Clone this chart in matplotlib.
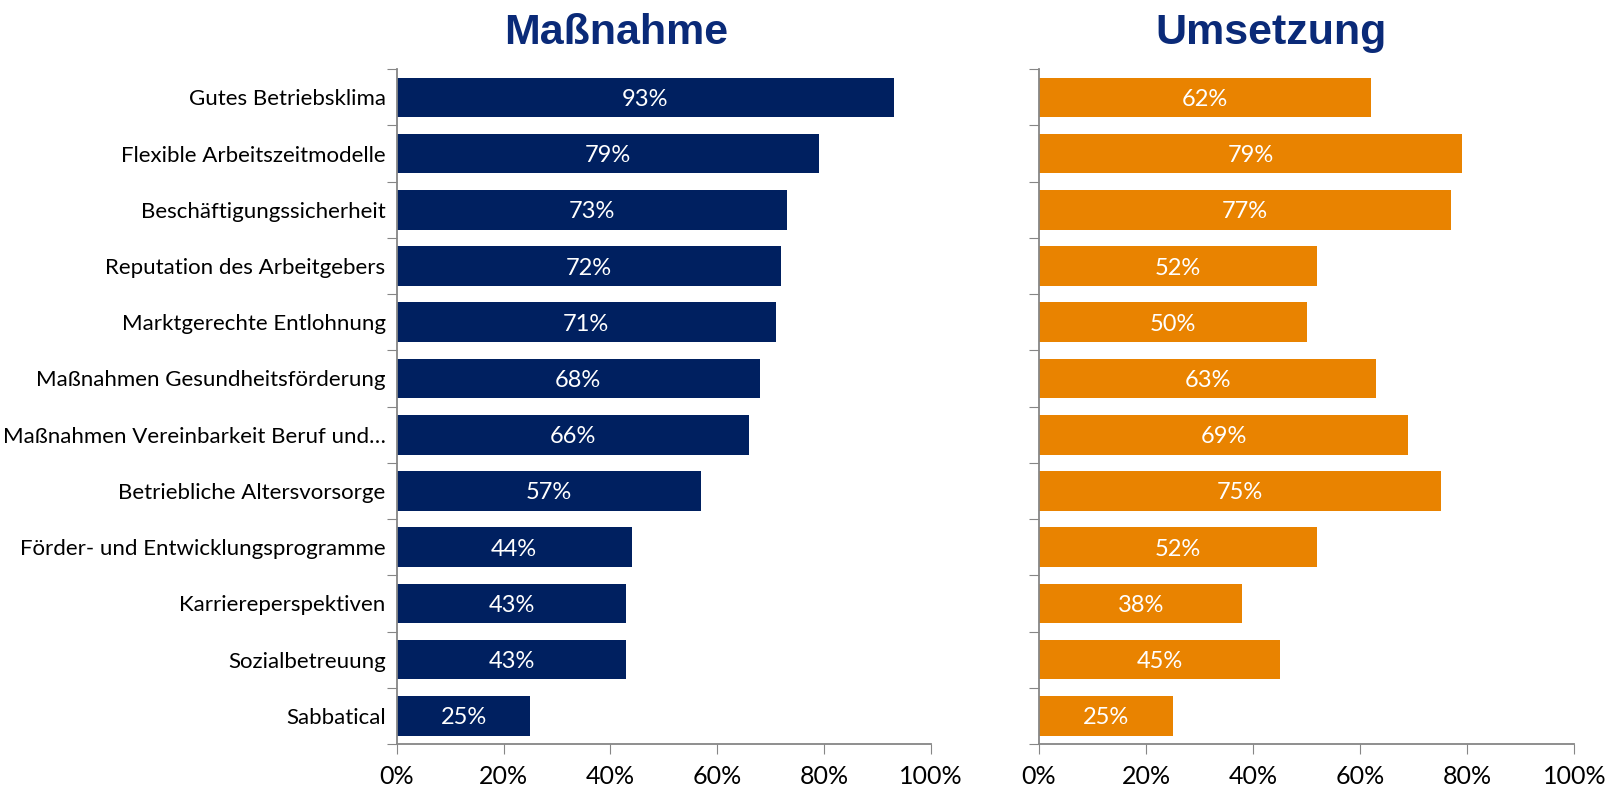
import matplotlib
matplotlib.use('Agg')
import matplotlib.pyplot as plt
import numpy as np
from matplotlib.ticker import FixedLocator, PercentFormatter

categories = [
    "Gutes Betriebsklima",
    "Flexible Arbeitszeitmodelle",
    "Beschäftigungssicherheit",
    "Reputation des Arbeitgebers",
    "Marktgerechte Entlohnung",
    "Maßnahmen Gesundheitsförderung",
    "Maßnahmen Vereinbarkeit Beruf und…",
    "Betriebliche Altersvorsorge",
    "Förder- und Entwicklungsprogramme",
    "Karriereperspektiven",
    "Sozialbetreuung",
    "Sabbatical",
]
massnahme = [93, 79, 73, 72, 71, 68, 66, 57, 44, 43, 43, 25]
umsetzung = [62, 79, 77, 52, 50, 63, 69, 75, 52, 38, 45, 25]
titles = ["Maßnahme", "Umsetzung"]
xticks = [0, 20, 40, 60, 80, 100]

plt.rcParams['font.family'] = ['Lato', 'DejaVu Sans']

fig = plt.figure(figsize=(16.14, 7.92), dpi=100)
ax1 = fig.add_axes([0.2458, 0.0606, 0.331, 0.852])
ax2 = fig.add_axes([0.6437, 0.0606, 0.3318, 0.852])

y = np.arange(len(categories))
for ax, vals, color in [(ax1, massnahme, '#002060'), (ax2, umsetzung, '#E98300')]:
    bars = ax.barh(y, vals, height=0.705, color=color, edgecolor='none')
    for b, v in zip(bars, vals):
        ax.text(v / 2, b.get_y() + b.get_height() / 2, f"{v}%",
                ha='center', va='center_baseline', color='white', fontsize=17)
    ax.set_xlim(0, 100)
    ax.set_ylim(len(categories) - 0.5, -0.5)
    ax.xaxis.set_major_locator(FixedLocator(xticks))
    ax.xaxis.set_major_formatter(PercentFormatter(decimals=0))
    # category boundaries get the tick marks, labels sit at the centres
    ax.yaxis.set_major_locator(FixedLocator(np.arange(-0.5, len(categories), 1)))
    ax.set_yticklabels([])
    ax.yaxis.set_minor_locator(FixedLocator(y))
    ax.tick_params(axis='y', which='major', length=7, color='#868686', direction='out')
    ax.tick_params(axis='y', which='minor', length=0, labelsize=16, pad=8)
    ax.tick_params(axis='x', length=7, color='#868686', labelsize=18, pad=8)
    for s in ['top', 'right']:
        ax.spines[s].set_visible(False)
    for s in ['left', 'bottom']:
        ax.spines[s].set_color('#868686')
        ax.spines[s].set_linewidth(1.3)

ax1.set_yticklabels(categories, minor=True)

fig.text(0.382, 0.958, titles[0], ha='center', va='center', fontsize=31,
         fontweight='bold', color='#0a2a78', family='Liberation Sans')
fig.text(0.7875, 0.958, titles[1], ha='center', va='center', fontsize=31,
         fontweight='bold', color='#0a2a78', family='Liberation Sans')

fig.savefig("out.png", dpi=100)
